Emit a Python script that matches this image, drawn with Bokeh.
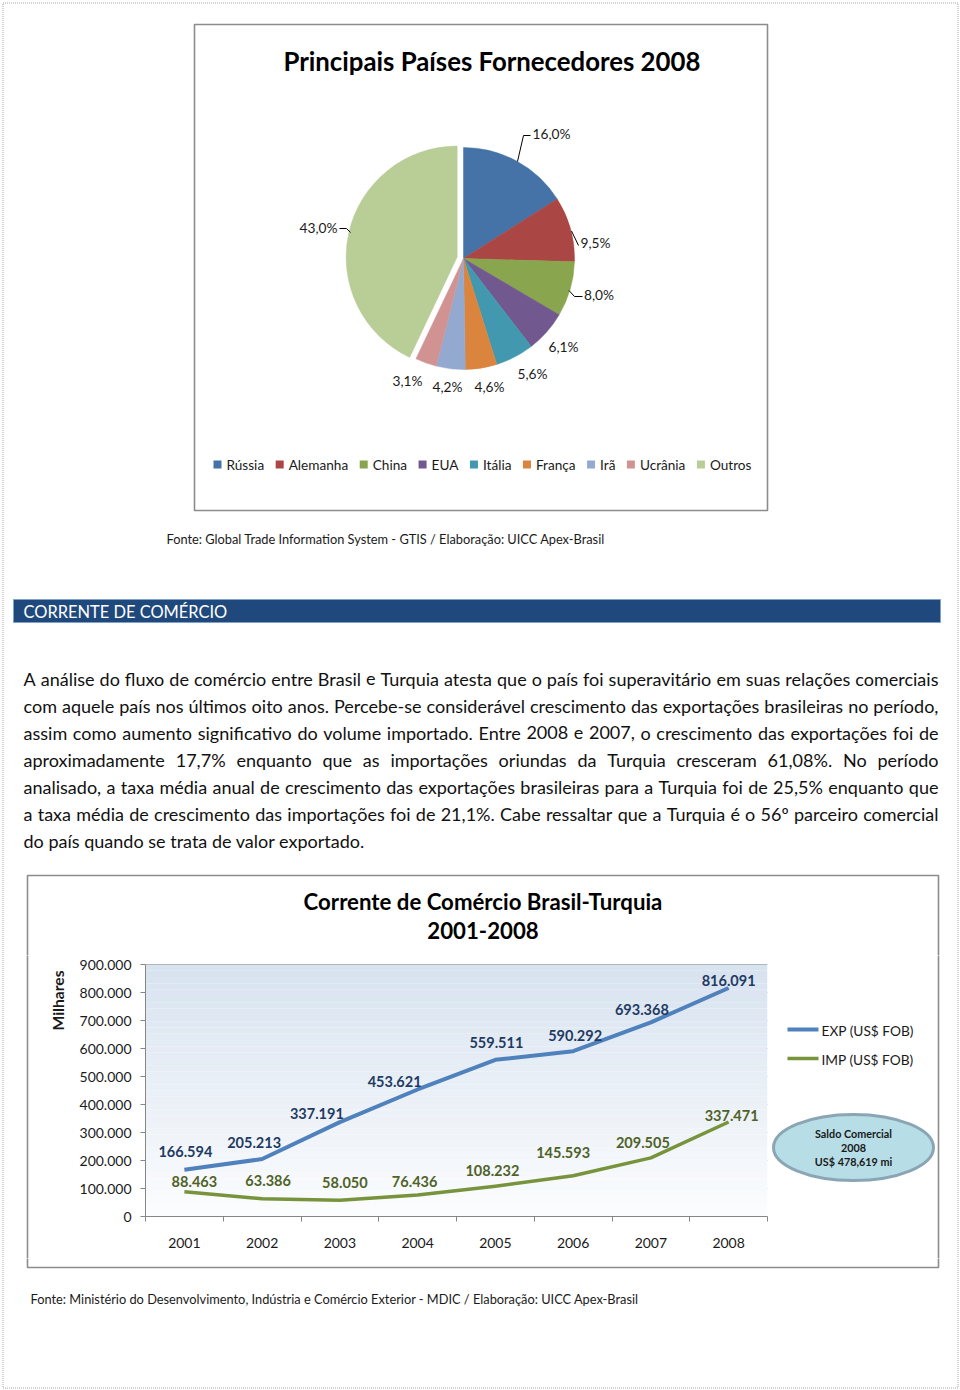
import glob
import math
import os
import subprocess

import numpy as np
from bokeh.core.properties import value
from bokeh.embed import file_html
from bokeh.layouts import column, row
from bokeh.models import CustomJSTickFormatter, FixedTicker, Range1d
from bokeh.plotting import figure
from bokeh.resources import INLINE

# ------------------------------------------------------------------ data
pie_title = "Principais Países Fornecedores  2008"
pie_countries = ["Rússia", "Alemanha", "China", "EUA", "Itália", "França", "Irã", "Ucrânia", "Outros"]
pie_shares = [16.0, 9.5, 8.0, 6.1, 5.6, 4.6, 4.2, 3.1, 43.0]
pie_source = "Fonte: Global Trade Information System - GTIS / Elaboração: UICC Apex-Brasil"

section_title = "CORRENTE DE COMÉRCIO"
paragraph_lines = [
    "A análise do fluxo de comércio entre Brasil e Turquia atesta que o país foi superavitário em suas relações comerciais",
    "com aquele país nos últimos oito anos. Percebe-se considerável crescimento das exportações brasileiras no período,",
    "assim como aumento significativo do volume importado. Entre 2008 e 2007, o crescimento das exportações foi de",
    "aproximadamente 17,7% enquanto que as importações oriundas da Turquia cresceram 61,08%. No período",
    "analisado, a taxa média anual de crescimento das exportações brasileiras para a Turquia foi de 25,5% enquanto que",
    "a taxa média de crescimento das importações foi de 21,1%. Cabe ressaltar que a Turquia é o 56º parceiro comercial",
    "do país quando se trata de valor exportado.",
]

line_title = ["Corrente de Comércio Brasil-Turquia", "2001-2008"]
years = [2001, 2002, 2003, 2004, 2005, 2006, 2007, 2008]
exp_values = [166594, 205213, 337191, 453621, 559511, 590292, 693368, 816091]
imp_values = [88463, 63386, 58050, 76436, 108232, 145593, 209505, 337471]
series_names = ["EXP (US$ FOB)", "IMP (US$ FOB)"]
y_ticks = [0, 100000, 200000, 300000, 400000, 500000, 600000, 700000, 800000, 900000]
y_axis_label = "Milhares"
saldo_lines = ["Saldo Comercial", "2008", "US$ 478,619 mi"]
line_source = "Fonte: Ministério do Desenvolvimento, Indústria e Comércio Exterior - MDIC / Elaboração: UICC Apex-Brasil"

# ------------------------------------------------------------------ styles
FONT = "Lato"
pie_colors = ["#4572A7", "#AA4643", "#89A54E", "#71588F", "#4198AF", "#DB843D",
              "#93A9CF", "#D19392", "#B9CD96"]
EXP_COLOR = "#4F81BD"
IMP_COLOR = "#77933C"
EXP_LABEL_COLOR = "#1F3B63"
IMP_LABEL_COLOR = "#4F6228"
TEXT_COLOR = "#1a1a1a"
BOX_COLOR = "#8c8c8c"
PAGE_BORDER = "#a8a8a8"
PAGE_W, PAGE_H = 960, 1390


# ------------------------------------------------------------------ text metrics
def _find_font(fname, pattern):
    for root in ["/usr/share/fonts", "/usr/local/share/fonts",
                 os.path.expanduser("~/.fonts"), os.path.expanduser("~/.local/share/fonts")]:
        hits = glob.glob(os.path.join(root, "**", fname), recursive=True)
        if hits:
            return hits[0]
    try:
        out = subprocess.run(["fc-match", "-f", "%{file}", pattern], capture_output=True,
                             text=True, timeout=5).stdout.strip()
        if out and os.path.exists(out):
            return out
    except Exception:
        pass
    return None


_fonts = {}
try:
    from PIL import ImageFont
    for bold, fname, pat in [(False, "Lato-Regular.ttf", "Lato:style=Regular"),
                             (True, "Lato-Bold.ttf", "Lato:style=Bold")]:
        path = _find_font(fname, pat)
        if path:
            _fonts[bold] = ImageFont.truetype(path, 100)
except Exception:
    _fonts = {}
HAVE_METRICS = len(_fonts) == 2


def text_w(s, size, bold=False):
    if HAVE_METRICS:
        return _fonts[bold].getlength(s) * size / 100.0
    return len(s) * size * (0.53 if bold else 0.5)


def fit(s, width, bold=False):
    return width / text_w(s, 1.0, bold)


def px(v):
    return f"{v:.2f}px"


def fmt_thousands(v):
    return f"{v:,}".replace(",", ".")


# ------------------------------------------------------------------ page-coordinate canvases
def canvas(x0, x1, y0, y1):
    p = figure(width=int(x1 - x0), height=int(y1 - y0), x_range=Range1d(x0, x1),
               y_range=Range1d(y1, y0), output_backend="svg", toolbar_location=None,
               min_border=0, x_axis_type=None, y_axis_type=None)
    p.outline_line_color = None
    p.background_fill_color = "white"
    p.border_fill_color = "white"
    p.frame_align = False
    # page border (dotted) and chart box: each canvas draws the part that falls on it
    p.quad(left=[2.5], right=[957.5], top=[2.5], bottom=[1387.5], fill_color=None,
           line_color=PAGE_BORDER, line_width=1, line_dash="1 1")
    p.quad(left=[27], right=[938], top=[875], bottom=[1267], fill_color=None,
           line_color=BOX_COLOR, line_width=1.6)
    return p


def label(p, x, y, txt, size, bold=False, align="left", color=TEXT_COLOR, angle=0.0):
    p.text(x=[x], y=[y], text=[txt], text_font=value(FONT),
           text_font_style="bold" if bold else "normal", text_font_size=px(size),
           text_align=align, text_baseline="middle", text_color=color, angle=angle)


ROW_TOP, ROW_BOT = 955, 1258
X_LEFT, X_RIGHT = 70, 769

# ================================================================== top canvas
pa = canvas(0, PAGE_W, 0, ROW_TOP)

pa.quad(left=[194], right=[767], top=[24], bottom=[510], fill_color="white",
        line_color=BOX_COLOR, line_width=1.6)
s_title = fit(" ".join(pie_title.split()), 417, bold=True)
label(pa, 494.5, 60, pie_title, s_title, bold=True, align="center", color="black")

# pie wedges (clockwise from 12 o'clock)
shares = np.array(pie_shares)
frac = shares / shares.sum()
cum = np.concatenate([[0.0], np.cumsum(frac)])
start_ang = math.pi / 2 - 2 * math.pi * cum[:-1]
end_ang = math.pi / 2 - 2 * math.pi * cum[1:]
CX, CY, R = 463.0, 258.0, 111.0
EXPLODE = 6.5
mid = math.pi / 2 - 2 * math.pi * (cum[-2] + cum[-1]) / 2
cx = [CX] * (len(shares) - 1) + [CX + EXPLODE * math.cos(mid)]
cy = [CY] * (len(shares) - 1) + [CY - EXPLODE * math.sin(mid)]
pa.wedge(x=cx, y=cy, radius=R, start_angle=list(start_ang), end_angle=list(end_ang),
         direction="clock", fill_color=pie_colors, line_color=pie_colors, line_width=0.5)

# pie data labels
pie_label_pos = [(551, 133), (595, 242), (598.5, 294), (563, 346), (532, 373),
                 (489, 386), (447, 386), (407, 380), (318, 227)]
pie_labels = [f"{v:.1f}".replace(".", ",") + "%" for v in pie_shares]
s_pl = fit(pie_labels[0], 38)
pa.text(x=[p[0] for p in pie_label_pos], y=[p[1] for p in pie_label_pos], text=pie_labels,
        text_font=value(FONT), text_font_size=px(s_pl), text_align="center",
        text_baseline="middle", text_color=TEXT_COLOR)
pa.multi_line(xs=[[530, 523, 517], [571, 578], [568.5, 574, 582], [339, 346, 350]],
              ys=[[135, 135, 161], [230.5, 245], [290, 296, 296], [228, 228, 232]],
              line_color="black", line_width=1)

# pie legend
leg_total = 751 - 213
gap_sq_txt, gap_next = 13, 11.5
w1 = sum(text_w(c, 1.0) for c in pie_countries)
s_leg = (leg_total - gap_sq_txt * len(pie_countries) - gap_next * (len(pie_countries) - 1)) / w1
xs_sq, xs_tx = [], []
xcur = 213.0
for c in pie_countries:
    xs_sq.append(xcur + 4)
    xs_tx.append(xcur + gap_sq_txt)
    xcur = xcur + gap_sq_txt + text_w(c, s_leg) + gap_next
pa.rect(x=xs_sq, y=[464] * len(xs_sq), width=8, height=8, fill_color=pie_colors,
        line_color=None)
pa.text(x=xs_tx, y=[464.5] * len(xs_tx), text=pie_countries, text_font=value(FONT),
        text_font_size=px(s_leg), text_align="left", text_baseline="middle",
        text_color=TEXT_COLOR)

label(pa, 166, 538, pie_source, fit(pie_source, 438))

# section header bar
pa.quad(left=[13], right=[940], top=[599], bottom=[622], fill_color="#1F497D",
        line_color="#7FA1CC", line_width=1)
label(pa, 23, 611, section_title, fit(section_title, 204), color="white")

# paragraph (justified)
PL, PR = 23.0, 938.0
s_par = fit(paragraph_lines[-1], 341)
for ln in paragraph_lines[:-1]:
    s_par = min(s_par, (PR - PL - 4) / text_w(ln, 1.0))
par_x, par_y, par_t = [], [], []
for i, ln in enumerate(paragraph_lines):
    yy = 678 + 27 * i
    if i == len(paragraph_lines) - 1 or not HAVE_METRICS:
        par_x.append(PL)
        par_y.append(yy)
        par_t.append(ln)
        continue
    words = ln.split(" ")
    ws = [text_w(w, s_par) for w in words]
    gap = (PR - PL - sum(ws)) / (len(words) - 1)
    xcur = PL
    for w, ww in zip(words, ws):
        par_x.append(xcur)
        par_y.append(yy)
        par_t.append(w)
        xcur += ww + gap
pa.text(x=par_x, y=par_y, text=par_t, text_font=value(FONT), text_font_size=px(s_par),
        text_align="left", text_baseline="middle", text_color="#111111")

# line chart title
s_t1 = fit(line_title[0], 359, bold=True)
label(pa, 482.5, 901, line_title[0], s_t1, bold=True, align="center", color="black")
label(pa, 482.5, 930, line_title[1], s_t1, bold=True, align="center", color="black")

# ================================================================== left strip (y-axis title)
pl = canvas(0, X_LEFT, ROW_TOP, ROW_BOT)
label(pl, 57, 1000, y_axis_label, fit(y_axis_label, 60, bold=True), bold=True,
      align="center", angle=math.pi / 2)

# ================================================================== line chart
FL, FR, FT, FB = 145.0, 767.0, 963.0, 1216.0   # page coords of the plot frame
YPX = 252.0 / 900000.0                          # px per unit
y_end = (FB - FT) / YPX
pc = figure(width=X_RIGHT - X_LEFT, height=ROW_BOT - ROW_TOP,
            x_range=Range1d(years[0] - 0.5, years[-1] + 0.5), y_range=Range1d(0, y_end),
            output_backend="svg", toolbar_location=None,
            min_border_left=int(FL - X_LEFT), min_border_right=int(X_RIGHT - FR),
            min_border_top=int(FT - ROW_TOP), min_border_bottom=int(ROW_BOT - FB))
pc.frame_align = False
pc.outline_line_color = None
pc.background_fill_color = "white"
pc.border_fill_color = "white"
pc.xgrid.visible = False

NB = 40
edges = np.linspace(0, y_ticks[-1], NB + 1)
c_bot = np.array([252, 253, 254])
c_top = np.array([216, 227, 240])
band_cols = []
for k in range(NB):
    t = (k + 0.5) / NB
    c = (c_bot + (c_top - c_bot) * t).astype(int)
    band_cols.append("#%02x%02x%02x" % tuple(c))
pc.quad(left=years[0] - 0.5, right=years[-1] + 0.5, bottom=edges[:-1], top=edges[1:],
        fill_color=band_cols, line_color=None)

pc.ygrid.ticker = FixedTicker(ticks=y_ticks)
pc.ygrid.grid_line_color = "#8a8a8a"
pc.ygrid.grid_line_width = 1

r_exp = pc.line(years, exp_values, line_color=EXP_COLOR, line_width=4, line_join="round")
r_imp = pc.line(years, imp_values, line_color=IMP_COLOR, line_width=3.5, line_join="round")

s_dl = fit(fmt_thousands(exp_values[0]), 54, bold=True)
exp_off = [(1, -18), (-8, -16.5), (-23, -8.5), (-23, -8), (1, -17), (2, -15.5), (-9, -13), (0, -7.5)]
imp_off = [(10, -10), (6, -18), (5, -18), (-3, -13.5), (-3, -15.5), (-10, -23), (-8, -15), (3, -6.5)]
pc.text(x=years, y=exp_values, text=[fmt_thousands(v) for v in exp_values],
        x_offset=[o[0] for o in exp_off], y_offset=[o[1] for o in exp_off],
        text_font=value(FONT), text_font_style="bold", text_font_size=px(s_dl),
        text_align="center", text_baseline="middle", text_color=EXP_LABEL_COLOR)
pc.text(x=years, y=imp_values, text=[fmt_thousands(v) for v in imp_values],
        x_offset=[o[0] for o in imp_off], y_offset=[o[1] for o in imp_off],
        text_font=value(FONT), text_font_style="bold", text_font_size=px(s_dl),
        text_align="center", text_baseline="middle", text_color=IMP_LABEL_COLOR)

s_tick = fit("900.000", 52)
xa = pc.xaxis[0]
xa.ticker = FixedTicker(ticks=years, minor_ticks=[y - 0.5 for y in years] + [years[-1] + 0.5])
xa.major_tick_in = 0
xa.major_tick_out = 0
xa.minor_tick_in = 0
xa.minor_tick_out = 5
xa.minor_tick_line_color = "#868686"
xa.axis_line_color = "#868686"
xa.major_label_text_font = FONT
xa.major_label_text_font_size = px(s_tick)
xa.major_label_text_color = TEXT_COLOR
xa.major_label_standoff = 16

ya = pc.yaxis[0]
ya.ticker = FixedTicker(ticks=y_ticks)
ya.bounds = (0, y_ticks[-1])
ya.formatter = CustomJSTickFormatter(
    code="var s = Math.round(tick).toString(); return s.replace(/\\B(?=(\\d{3})+(?!\\d))/g, '.');")
ya.major_tick_in = 0
ya.major_tick_out = 5
ya.minor_tick_line_color = None
ya.major_tick_line_color = "#868686"
ya.axis_line_color = "#868686"
ya.major_label_text_font = FONT
ya.major_label_text_font_size = px(s_tick)
ya.major_label_text_color = TEXT_COLOR
ya.major_label_standoff = 9

# ================================================================== right strip (legend, saldo)
pr = canvas(X_RIGHT, PAGE_W, ROW_TOP, ROW_BOT)
s_lg = fit(series_names[0], 92)
pr.segment(x0=[787, 787], x1=[818, 818], y0=[1029, 1058], y1=[1029, 1058],
           line_color=[EXP_COLOR, IMP_COLOR], line_width=[4, 3.5])
pr.text(x=[821, 821], y=[1029.5, 1058.5], text=series_names, text_font=value(FONT),
        text_font_size=px(s_lg), text_align="left", text_baseline="middle",
        text_color=TEXT_COLOR)
pr.ellipse(x=[853], y=[1147], width=160, height=66, fill_color="#B7DDE6",
           line_color="#8AA5B4", line_width=3)
s_sal = fit(saldo_lines[0], 77, bold=True)
pr.text(x=[853] * 3, y=[1133, 1147, 1161], text=saldo_lines, text_font=value(FONT),
        text_font_style="bold", text_font_size=px(s_sal), text_align="center",
        text_baseline="middle", text_color="#1a1a1a")

# ================================================================== bottom strip
pbot = canvas(0, PAGE_W, ROW_BOT, PAGE_H)
label(pbot, 30, 1298, line_source, fit(line_source, 608))

layout = column(pa, row(pl, pc, pr, spacing=0), pbot, spacing=0)
open("out.html", "w").write(file_html(layout, INLINE))
